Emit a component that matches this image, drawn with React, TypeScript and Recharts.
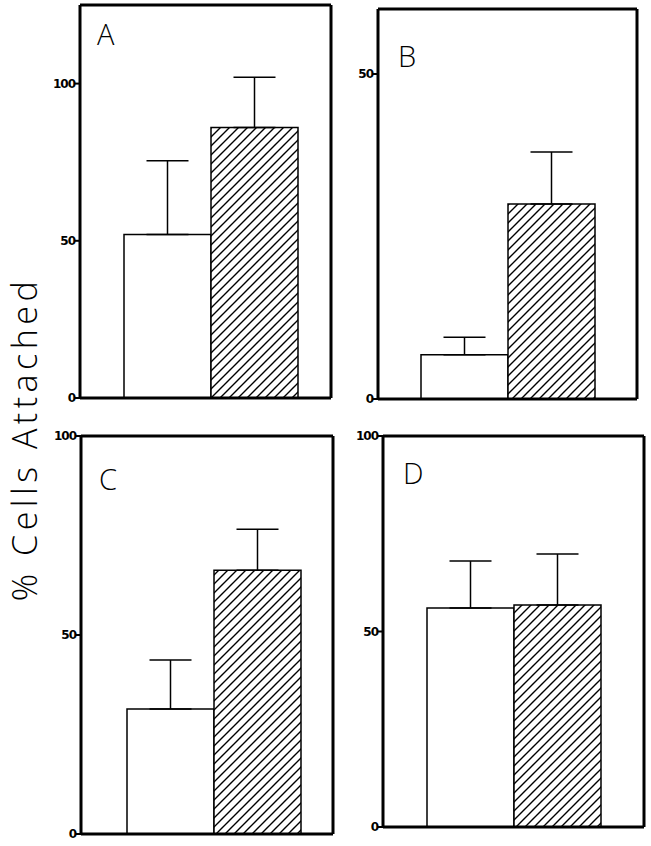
import React from 'react'
import { BarChart, Bar, XAxis, YAxis, ErrorBar } from 'recharts'

const panels = ['A', 'B', 'C', 'D']
const controlValues = [52, 6.8, 31.4, 56]
const controlErrors = [23.5, 2.7, 12.3, 12]
const treatedValues = [86, 30, 66.3, 56.8]
const treatedErrors = [16, 8, 10.3, 13]
const yMax = [125, 60, 100, 100]
const yTicks = [[0, 50, 100], [0, 50], [0, 50, 100], [0, 50, 100]]
const yLabel = '% Cells Attached'

// frame box of each panel on the page: left, top, right, bottom
const frames = [
  [80, 5, 331, 398],
  [378, 9, 637, 399],
  [81, 436, 333, 834],
  [383, 436, 644, 827],
]
const padLeft = [11, 0, 13, 0]
const letterPos = [[97, 45], [398, 67], [99, 490], [403, 484]]

const frameLine = { stroke: '#000', strokeWidth: 3 }
const tickStyle = { fontSize: 12, fontWeight: 700, fontFamily: 'DejaVu Sans', fill: '#000', letterSpacing: -1 }

function Panel({ i }: { i: number }) {
  const [L, T, R, B] = frames[i]
  const data = [{
    name: panels[i],
    control: controlValues[i],
    controlErr: [0, controlErrors[i]],
    treated: treatedValues[i],
    treatedErr: [0, treatedErrors[i]],
  }]
  const hatchId = `hatch${i}`
  return (
    <div style={{ position: 'absolute', left: L - 60, top: T - 10 }}>
      <BarChart
        width={R - L + 65}
        height={B - T + 20}
        data={data}
        margin={{ top: 9, right: 4, bottom: 9, left: 0 }}
        barGap={0}
      >
        <defs>
          <pattern id={hatchId} patternUnits="userSpaceOnUse" width={9} height={9}>
            <rect width={9} height={9} fill="#fff" />
            <path d="M-2,2 l4,-4 M0,9 l9,-9 M7,11 l4,-4" stroke="#000" strokeWidth={1.4} />
          </pattern>
        </defs>
        <XAxis dataKey="name" height={1} tick={false} tickLine={false}
          axisLine={frameLine} padding={{ left: padLeft[i], right: 0 }} />
        <XAxis xAxisId="top" dataKey="name" orientation="top" height={1} tick={false} tickLine={false}
          axisLine={frameLine} />
        <YAxis domain={[0, yMax[i]]} ticks={yTicks[i]} width={60} tick={tickStyle} tickSize={5}
          tickMargin={0} tickLine={{ stroke: '#000', strokeWidth: 2 }}
          axisLine={frameLine} allowDataOverflow />
        <YAxis yAxisId="right" orientation="right" width={1} tick={false} tickLine={false}
          axisLine={frameLine} />
        <Bar dataKey="control" fill="#fff" stroke="#000" strokeWidth={1.5} barSize={87} isAnimationActive={false}>
          <ErrorBar dataKey="controlErr" width={21} stroke="#000" strokeWidth={1.5} />
        </Bar>
        <Bar dataKey="treated" fill={`url(#${hatchId})`} stroke="#000" strokeWidth={1.5} barSize={87} isAnimationActive={false}>
          <ErrorBar dataKey="treatedErr" width={21} stroke="#000" strokeWidth={1.5} />
        </Bar>
      </BarChart>
    </div>
  )
}

export default function App() {
  return (
    <div style={{ position: 'absolute', left: 0, top: 0, width: 651, height: 846, overflow: 'hidden', background: '#fff' }}>
      {panels.map((p, i) => <Panel key={p} i={i} />)}
      <svg width={651} height={846} style={{ position: 'absolute', left: 0, top: 0, pointerEvents: 'none' }}>
        {panels.map((p, i) => (
          <text key={p} x={letterPos[i][0]} y={letterPos[i][1]} fontSize={29} fontWeight={300}
            fontFamily="'Open Sans', 'DejaVu Sans', sans-serif" fill="#000">{p}</text>
        ))}
        <text transform="translate(37, 439) rotate(-90)" textAnchor="middle" fontSize={34} fontWeight={300}
          fontFamily="'Open Sans', 'DejaVu Sans', sans-serif" fill="#000" letterSpacing={4.5}>{yLabel}</text>
      </svg>
    </div>
  )
}
